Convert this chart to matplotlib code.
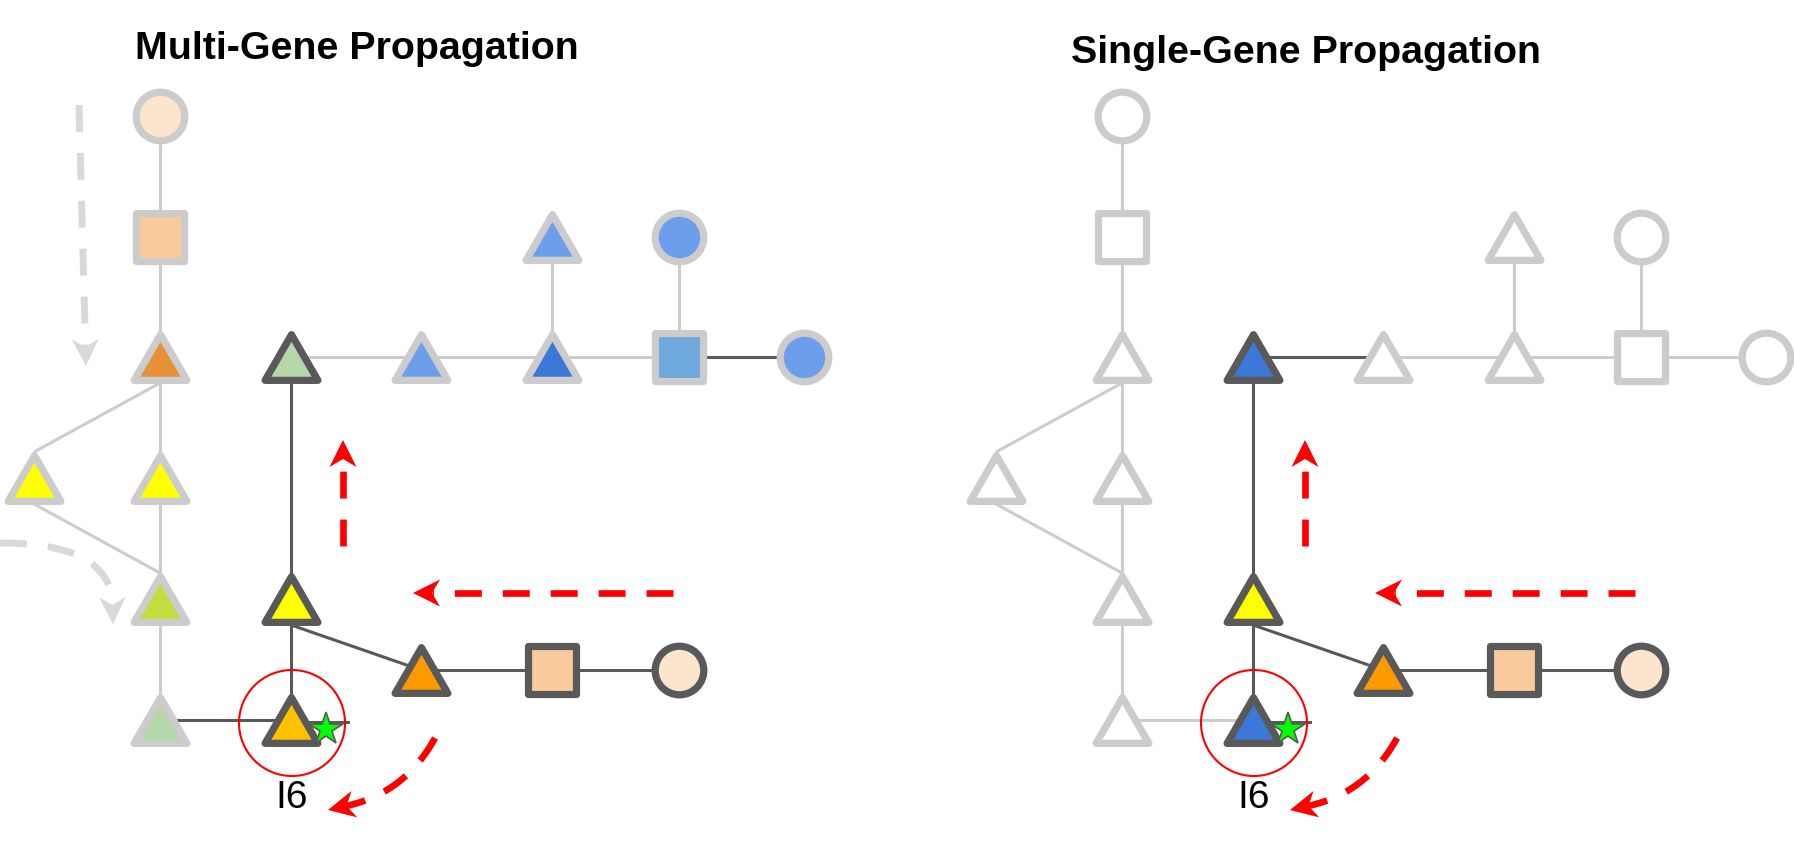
import numpy as np
import matplotlib.pyplot as plt
from matplotlib.markers import MarkerStyle
from matplotlib.path import Path
from matplotlib.patches import Polygon, Circle

plt.rcParams['lines.scale_dashes'] = False
plt.rcParams['font.family'] = ['Liberation Sans', 'DejaVu Sans']

# layout grid, in pixels of the 1794x843 canvas
col_x = [34, 160, 291, 421, 552, 679, 804]
row_y = [116, 237, 357, 478, 599, 670, 720]
panel_dx = [0, 962]
titles = ['Multi-Gene Propagation', 'Single-Gene Propagation']
title_pos = [(357, 59), (1306, 63)]

# nodes of the pedigree-like graph
node_names = ['A', 'B', 'C', 'D', 'E', 'F', 'G', 'H', 'I', 'J',
              'K', 'L', 'M', 'N', 'O', 'P', 'Q', 'R', 'S']
node_col = [1, 1, 1, 0, 1, 1, 1, 2, 3, 4, 4, 5, 5, 6, 2, 2, 3, 4, 5]
node_row = [0, 1, 2, 3, 3, 4, 6, 2, 2, 1, 2, 1, 2, 2, 4, 6, 5, 5, 5]
node_shape = ['o', 's', '^', '^', '^', '^', '^', '^', '^', '^',
              '^', 'o', 's', 'o', '^', '^', '^', 's', 'o']
active_nodes = ['H', 'O', 'P', 'Q', 'R', 'S']

multi_fill = ['#fce5cd', '#f9cb9c', '#e69138', '#ffff00', '#ffff00', '#c0de3c',
              '#b6d7a8', '#b6d7a8', '#6d9eeb', '#6d9eeb', '#3c78d8', '#6d9eeb',
              '#6fa8dc', '#6d9eeb', '#ffff00', '#ffc000', '#ff9900', '#f9cb9c',
              '#fce5cd']
single_fill = ['white', 'white', 'white', 'white', 'white', 'white',
               'white', '#3c78d8', 'white', 'white', 'white', 'white',
               'white', 'white', '#ffff00', '#3c78d8', '#ff9900', '#f9cb9c',
               '#fce5cd']
fills = [multi_fill, single_fill]

edges = [('A', 'B'), ('B', 'C'), ('C', 'E'), ('E', 'F'), ('F', 'G'), ('C', 'D'),
         ('D', 'F'), ('H', 'I'), ('I', 'K'), ('K', 'M'), ('J', 'K'), ('L', 'M'),
         ('M', 'N'), ('G', 'P'), ('H', 'O'), ('O', 'P'), ('O', 'Q'), ('Q', 'R'),
         ('R', 'S')]
multi_dark = [('M', 'N'), ('G', 'P'), ('H', 'O'), ('O', 'P'), ('O', 'Q'),
              ('Q', 'R'), ('R', 'S')]
single_dark = [('H', 'I'), ('H', 'O'), ('O', 'P'), ('O', 'Q'), ('Q', 'R'),
               ('R', 'S')]
dark_edges = [multi_dark, single_dark]
# edges leaving from the base of a triangle / arriving at its apex
edge_anchor = {('C', 'D'): (1, -1), ('D', 'F'): (1, -1), ('O', 'Q'): (1, 0)}

target = 'P'
target_label = 'I6'

# propagation arrows (panel-local pixels): start, control, tip
red_straight = [((343, 546), (343, 440)), ((673, 593), (413, 593))]
red_curved = [((435, 738), (405, 793), (328, 810))]
grey_straight = [((79, 105), (86, 366))]
grey_curved = [((0, 543), (111, 543), (113, 624))]

LIGHT = '#cccccc'
DARK = '#595959'
RED = '#ff0000'
GREY_ARROW = '#d9d9d9'

tri = MarkerStyle(Path([(0, 0.433), (-0.5, -0.433), (0.5, -0.433), (0, 0.433)],
                       [Path.MOVETO, Path.LINETO, Path.LINETO, Path.CLOSEPOLY]),
                  joinstyle='round')
markers = {'^': (tri, 38), 's': (MarkerStyle('s', joinstyle='round'), 35),
           'o': (MarkerStyle('o'), 35)}

fig = plt.figure(figsize=(17.94, 8.43), dpi=100)
ax = fig.add_axes([0, 0, 1, 1])
ax.set_xlim(0, 1794)
ax.set_ylim(843, 0)
ax.axis('off')


def node_xy(name, dx):
    i = node_names.index(name)
    return col_x[node_col[i]] + dx, row_y[node_row[i]]


def arrow_head(tip, u, color):
    u = np.asarray(u, float)
    u = u / np.hypot(*u)
    n = np.array([-u[1], u[0]])
    t = np.asarray(tip, float)
    pts = [t, t - 27 * u + 13.5 * n, t - 19 * u, t - 27 * u - 13.5 * n]
    ax.add_patch(Polygon(pts, closed=True, fc=color, ec='none', zorder=2))
    return t - 19 * u


def dashed(xs, ys, color, lw):
    ax.plot(xs, ys, color=color, lw=lw, ls=(0, (19.4, 15.1)),
            solid_capstyle='butt', dash_capstyle='butt', zorder=2)


def straight_arrow(start, tip, dx, color, lw):
    s = np.array(start, float) + [dx, 0]
    t = np.array(tip, float) + [dx, 0]
    end = arrow_head(t, t - s, color)
    dashed([s[0], end[0]], [s[1], end[1]], color, lw)


def curved_arrow(start, ctrl, tip, dx, color, lw):
    p0 = np.array(start, float) + [dx, 0]
    p1 = np.array(ctrl, float) + [dx, 0]
    t = np.array(tip, float) + [dx, 0]
    p2 = arrow_head(t, t - p1, color)
    s = np.linspace(0, 1, 80)[:, None]
    curve = (1 - s) ** 2 * p0 + 2 * (1 - s) * s * p1 + s ** 2 * p2
    dashed(curve[:, 0], curve[:, 1], color, lw)


for k, dx in enumerate(panel_dx):
    ax.text(title_pos[k][0], title_pos[k][1], titles[k], fontsize=28.4,
            fontweight='bold', ha='center', va='baseline')

    for a, b in edges:
        xa, ya = node_xy(a, dx)
        xb, yb = node_xy(b, dx)
        ka, kb = edge_anchor.get((a, b), (0, 0))
        c = DARK if (a, b) in dark_edges[k] else LIGHT
        ax.plot([xa, xb], [ya + 26 * ka, yb + 26 * kb], color=c, lw=2.2,
                solid_capstyle='butt', zorder=1)

    tx, ty = node_xy(target, dx)
    ax.plot([tx, tx + 57], [ty + 2, ty + 2], color=DARK, lw=2.2, zorder=1)

    for i, name in enumerate(node_names):
        x, y = node_xy(name, dx)
        m, size = markers[node_shape[i]]
        ec = DARK if name in active_nodes else LIGHT
        ax.plot(x, y, marker=m, ms=size, mfc=fills[k][i], mec=ec, mew=5.2,
                ls='none', zorder=3)

    ax.add_patch(Circle((tx + 1, ty + 3), 53, fill=False, ec=RED, lw=1.5,
                        zorder=4))
    ax.plot(tx + 35, ty + 9, marker='*', ms=25, mfc='#00ff00', mec=DARK,
            mew=1.2, ls='none', zorder=5)
    ax.text(tx + 1, 808, target_label, fontsize=28, ha='center',
            va='baseline')

    for s, t in red_straight:
        straight_arrow(s, t, dx, RED, 4.8)
    for s, c, t in red_curved:
        curved_arrow(s, c, t, dx, RED, 4.8)
    if k == 0:
        for s, t in grey_straight:
            straight_arrow(s, t, dx, GREY_ARROW, 5)
        for s, c, t in grey_curved:
            curved_arrow(s, c, t, dx, GREY_ARROW, 5)

fig.savefig('out.png', dpi=100)
